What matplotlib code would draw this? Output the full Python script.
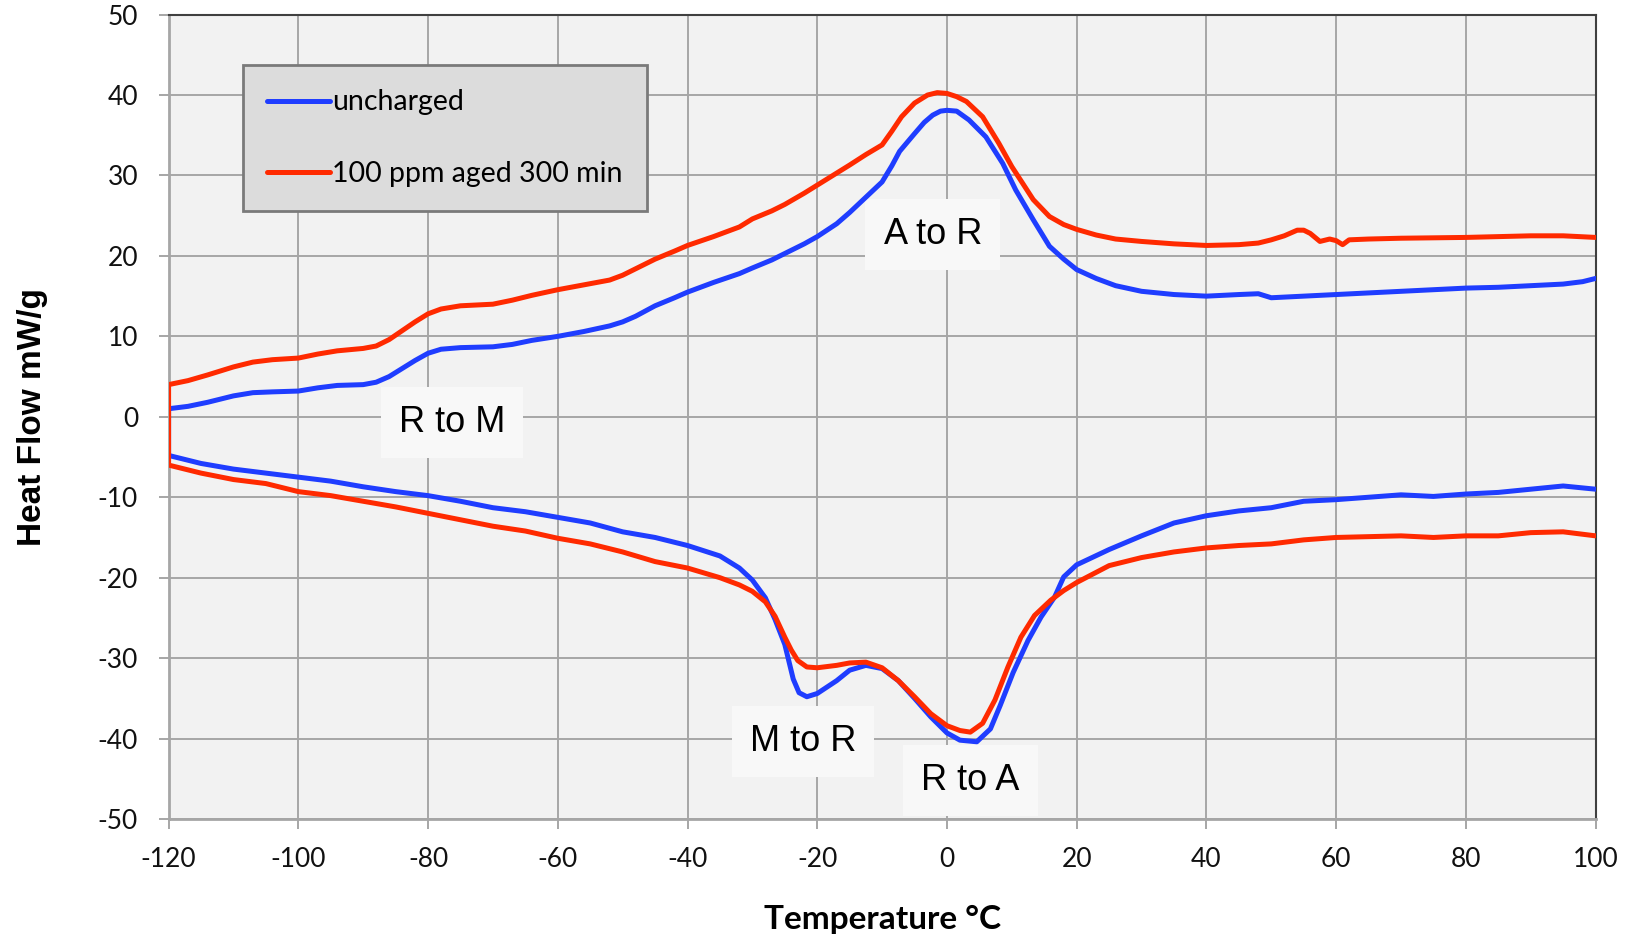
import matplotlib
matplotlib.use("Agg")
import matplotlib.pyplot as plt

# ---- data ----
# cooling branch (upper curves)
blue_up_t = [-120, -117, -114, -110, -107, -104, -100, -97, -94, -90, -88, -86, -84, -82, -80, -78, -75, -70,
             -67, -64, -60, -56, -52, -50, -48, -45, -42, -40, -36, -32, -30, -27, -25, -22, -20, -17, -15,
             -12.5, -10, -8.5, -7.3, -5, -3.5, -2.2, -1, 0, 1.5, 3.4, 6, 8.6, 10.6, 13.3, 15.8, 18, 20, 23, 26,
             30, 35, 40, 45, 48, 50, 55, 60, 65, 70, 75, 80, 85, 90, 95, 98, 100]
blue_up_v = [1.0, 1.3, 1.8, 2.6, 3.0, 3.1, 3.2, 3.6, 3.9, 4.0, 4.3, 5.0, 6.0, 7.0, 7.9, 8.4, 8.6, 8.7,
             9.0, 9.5, 10.0, 10.6, 11.3, 11.8, 12.5, 13.8, 14.8, 15.5, 16.7, 17.8, 18.5, 19.5, 20.3, 21.5, 22.4, 24.0, 25.4,
             27.3, 29.2, 31.2, 33.0, 35.2, 36.6, 37.5, 38.0, 38.1, 38.0, 36.9, 34.8, 31.5, 28.2, 24.5, 21.2, 19.6, 18.3, 17.2, 16.3,
             15.6, 15.2, 15.0, 15.2, 15.3, 14.8, 15.0, 15.2, 15.4, 15.6, 15.8, 16.0, 16.1, 16.3, 16.5, 16.8, 17.2]
red_up_t = [-120, -117, -114, -110, -107, -104, -100, -97, -94, -90, -88, -86, -84, -82, -80, -78, -75, -70,
            -67, -64, -60, -56, -52, -50, -48, -45, -42, -40, -36, -32, -30, -27, -25, -22, -20, -17, -15,
            -12.5, -10, -8.5, -7, -5, -3, -1.5, 0, 1.5, 3, 5.5, 8, 10, 13.3, 15.8, 18, 20, 23, 26,
            30, 35, 40, 45, 48, 50, 52, 54, 55, 56, 57.5, 59, 60, 61, 62, 65, 70, 80, 90, 95, 100]
red_up_v = [4.0, 4.5, 5.2, 6.2, 6.8, 7.1, 7.3, 7.8, 8.2, 8.5, 8.8, 9.6, 10.7, 11.8, 12.8, 13.4, 13.8, 14.0,
            14.5, 15.1, 15.8, 16.4, 17.0, 17.6, 18.4, 19.6, 20.6, 21.3, 22.4, 23.6, 24.6, 25.6, 26.4, 27.8, 28.8, 30.3, 31.3,
            32.6, 33.8, 35.5, 37.3, 39.0, 40.0, 40.3, 40.2, 39.8, 39.2, 37.3, 34.0, 31.1, 27.0, 24.9, 23.9, 23.3, 22.6, 22.1,
            21.8, 21.5, 21.3, 21.4, 21.6, 22.0, 22.5, 23.2, 23.2, 22.8, 21.8, 22.1, 21.9, 21.4, 22.0, 22.1, 22.2, 22.3, 22.5, 22.5, 22.3]

# heating branch (lower curves)
blue_dn_t = [-120, -115, -110, -105, -100, -95, -90, -85, -80, -75, -70, -65, -60, -55, -50, -45, -40, -35,
             -32, -30, -28, -26.5, -25, -23.7, -22.8, -21.6, -20, -17, -15, -12.5, -10, -7.5, -5, -2.5, 0, 2, 4.6,
             6.7, 8.2, 10.2, 12.5, 14.5, 16.6, 18, 20, 25, 30, 35, 40, 45, 50, 55, 60, 65, 70, 75, 80, 85, 90, 95, 100]
blue_dn_v = [-4.8, -5.8, -6.5, -7.0, -7.5, -8.0, -8.7, -9.3, -9.8, -10.5, -11.3, -11.8, -12.5, -13.2, -14.3, -15.0, -16.0, -17.3,
             -18.8, -20.3, -22.5, -25.2, -28.3, -32.6, -34.3, -34.8, -34.4, -32.8, -31.5, -30.9, -31.3, -32.8, -35.0, -37.3, -39.3, -40.2, -40.4,
             -38.8, -35.9, -31.8, -27.8, -24.9, -22.4, -19.9, -18.4, -16.5, -14.8, -13.2, -12.3, -11.7, -11.3, -10.5, -10.3, -10.0, -9.7, -9.9, -9.6, -9.4, -9.0, -8.6, -9.0]
red_dn_t = [-120, -115, -110, -105, -100, -95, -90, -85, -80, -75, -70, -65, -60, -55, -50, -45, -40, -35,
            -32, -30, -28, -26.5, -25, -24, -23, -21.6, -20, -17, -15, -12.5, -10, -7.5, -5, -2.5, 0, 2, 3.6,
            5.5, 7.4, 9.4, 11.4, 13.5, 16, 18, 20, 25, 30, 35, 40, 45, 50, 55, 60, 65, 70, 75, 80, 85, 90, 95, 100]
red_dn_v = [-6.0, -7.0, -7.8, -8.3, -9.3, -9.8, -10.5, -11.2, -12.0, -12.8, -13.6, -14.2, -15.1, -15.8, -16.8, -18.0, -18.8, -20.0,
            -20.9, -21.7, -23.0, -24.8, -27.4, -29.0, -30.3, -31.1, -31.2, -30.9, -30.6, -30.5, -31.2, -32.8, -34.8, -36.9, -38.4, -39.0, -39.2,
            -38.1, -35.2, -31.1, -27.4, -24.7, -22.8, -21.6, -20.6, -18.5, -17.5, -16.8, -16.3, -16.0, -15.8, -15.3, -15.0, -14.9, -14.8, -15.0, -14.8, -14.8, -14.4, -14.3, -14.8]

series_names = ["uncharged", "100 ppm aged 300 min"]
series_colors = ["#1f3dff", "#ff2a00"]
annotations = [("A to R", -2.2, 22.7), ("R to M", -76.3, -0.7),
               ("M to R", -22.2, -40.4), ("R to A", 3.6, -45.2)]
x_ticks = list(range(-120, 101, 20))
y_ticks = list(range(-50, 51, 10))

plt.rcParams['font.family'] = ['Lato', 'DejaVu Sans']
plt.rcParams['axes.unicode_minus'] = False

fig = plt.figure(figsize=(16.32, 9.36), dpi=100)
ax = fig.add_axes([0.1033, 0.125, 0.8744, 0.8594])
ax.set_facecolor("#f2f2f2")


def loop(tu, yu, td, yd):
    # upper branch traced from 100 down to -120, then the lower branch back up to 100
    return list(reversed(tu)) + list(td), list(reversed(yu)) + list(yd)


tb, yb = loop(blue_up_t, blue_up_v, blue_dn_t, blue_dn_v)
tr, yr = loop(red_up_t, red_up_v, red_dn_t, red_dn_v)
l1, = ax.plot(tb, yb, color=series_colors[0], lw=3.6, solid_joinstyle='round', solid_capstyle='round', zorder=3)
l2, = ax.plot(tr, yr, color=series_colors[1], lw=3.6, solid_joinstyle='round', solid_capstyle='round', zorder=4)

ax.set_xlim(-120, 100)
ax.set_ylim(-50, 50)
ax.set_xticks(x_ticks)
ax.set_yticks(y_ticks)
ax.grid(True, color="#a6a6a6", lw=1.4, zorder=0)
ax.set_axisbelow(True)
ax.tick_params(axis='both', direction='out', length=7, width=1.4, color="#a6a6a6",
               labelsize=19, labelcolor="#111111")
ax.tick_params(axis='x', pad=13)
ax.tick_params(axis='y', pad=15)
for s in ["left", "bottom"]:
    ax.spines[s].set_color("#a6a6a6")
    ax.spines[s].set_linewidth(2.0)
for s in ["top", "right"]:
    ax.spines[s].set_color("#404040")
    ax.spines[s].set_linewidth(1.5)

ax.set_xlabel("Temperature °C", fontsize=24, fontweight='bold', labelpad=24)
ax.set_ylabel("Heat Flow mW/g", fontsize=24, fontweight='bold', family=['Liberation Sans', 'DejaVu Sans'], labelpad=36)

for txt, x, y in annotations:
    ax.text(x, y, txt, fontsize=26, ha='center', va='center', family=['Liberation Sans', 'DejaVu Sans'],
            bbox=dict(boxstyle='square,pad=0.5', fc='#f8f8f8', ec='none'), zorder=2.5)

leg = ax.legend([l1, l2], series_names, loc='upper left', bbox_to_anchor=(0.052, 0.937),
                fontsize=20.5, frameon=True, fancybox=False, handlelength=2.2, handletextpad=0.1,
                labelspacing=1.6, borderpad=0.85, borderaxespad=0)
leg.get_frame().set_facecolor("#dcdcdc")
leg.get_frame().set_edgecolor("#7a7a7a")
leg.get_frame().set_linewidth(2.0)
leg.get_frame().set_alpha(1)
leg.set_zorder(6)

fig.savefig("out.png", dpi=100)
